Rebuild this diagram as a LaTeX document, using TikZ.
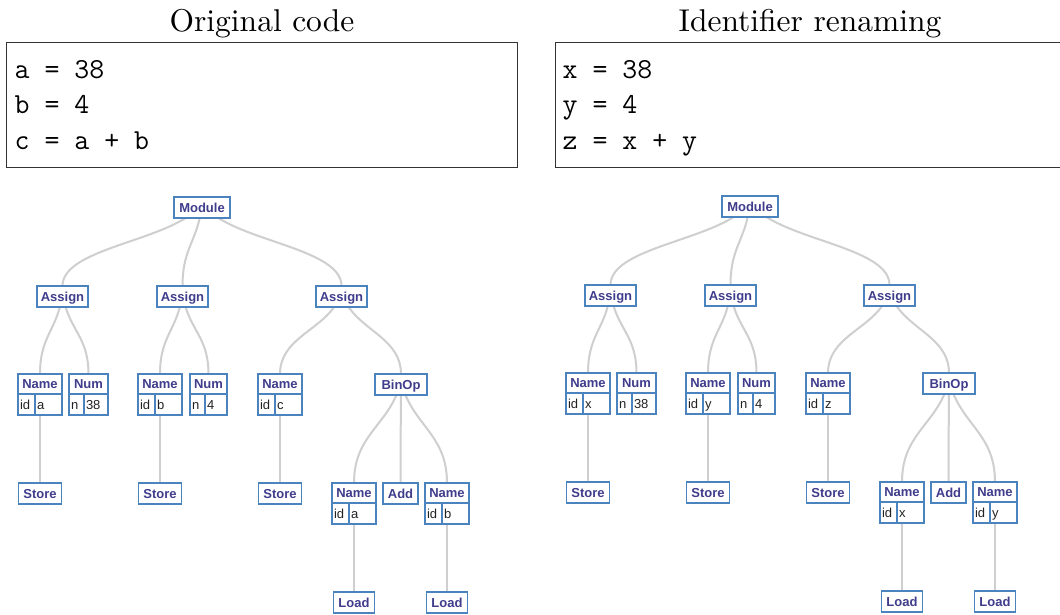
\documentclass[tikz,border=0pt]{standalone}
\usepackage{fontspec}
\newfontfamily\astsans{Liberation Sans}
\newfontfamily\titlefont{lmroman10-regular.otf}
\usetikzlibrary{calc}

\definecolor{astblue}{HTML}{4A83BD}
\definecolor{astink}{HTML}{3F3D8C}
\definecolor{astlinkc}{HTML}{CFCFCF}
\definecolor{astcellink}{HTML}{222222}
\definecolor{codeframe}{HTML}{333333}

\pgfdeclarelayer{paper}
\pgfdeclarelayer{links}
\pgfsetlayers{paper,links,main}

\tikzset{
  astbox/.style={draw=astblue, line width=1.9pt, fill=white, text=astink,
    font=\astsans\bfseries\fontsize{13}{15}\selectfont, inner sep=0pt,
    outer sep=0pt, minimum height=21pt, text height=9.3pt, text depth=0pt},
  astcell/.style={draw=astblue, line width=1.9pt, fill=white, text=astcellink,
    font=\astsans\fontsize{13}{15}\selectfont, inner xsep=2pt, inner ysep=0pt,
    outer sep=0pt, minimum height=21pt, text height=9.3pt, text depth=0pt,
    align=left, anchor=north west},
  astlink/.style={draw=astlinkc, line width=2pt},
  codebox/.style={draw=codeframe, line width=1.2pt, anchor=north west,
    inner sep=0pt, minimum width=511pt, minimum height=125pt},
  codeline/.style={anchor=base west, inner sep=0pt,
    font=\ttfamily\fontsize{29}{35}\selectfont},
  titletext/.style={anchor=base, inner sep=0pt, font=\titlefont\fontsize{31.5}{37}\selectfont},
}

% curved connector: leaves the parent towards the child, enters the child vertically
\newcommand\astedge[2]{%
  \draw[astlink] (#1) .. controls ($(#1)!0.4!(#2)$) and ($(#2)!0.5!(#2|-#1)$) .. (#2);}

% Name node: header plus an "id | value" row
\newcommand\astname[3]{%
  \node[astbox, minimum width=44pt, minimum height=20pt] (#1) at (#2) {Name};
  \node[astcell, text width=13pt] (#1-k) at (#1.south west) {id};
  \node[astcell, text width=23pt] (#1-v) at (#1-k.north east) {#3};}

% Num node: #3 header width, #4 value, #5 value text width
\newcommand\astnum[5]{%
  \node[astbox, minimum width=#3, minimum height=20pt] (#1) at (#2) {Num};
  \node[astcell, text width=11pt] (#1-k) at (#1.south west) {n};
  \node[astcell, text width=#5] (#1-v) at (#1-k.north east) {#4};}

% syntax tree of the three assignments; #1 name prefix, #2..#4 identifiers
\newcommand\asttree[4]{%
  \node[astbox, minimum width=56pt] (#1mod) at (202,207.5) {Module};
  \node[astbox, minimum width=51pt] (#1as1) at (62.5,296.5) {Assign};
  \node[astbox, minimum width=51pt] (#1as2) at (182.5,296.5) {Assign};
  \node[astbox, minimum width=51pt] (#1as3) at (341.5,296.5) {Assign};
  \astname{#1n1}{40,384}{#2}
  \astnum{#1c1}{88.5,384}{39pt}{38}{20pt}
  \astname{#1n2}{160,384}{#3}
  \astnum{#1c2}{208.5,384}{37pt}{4}{18pt}
  \astname{#1n3}{280,384}{#4}
  \node[astbox, minimum width=52pt] (#1bin) at (401,384.5) {BinOp};
  \node[astbox, minimum width=43pt] (#1st1) at (40,493.5) {Store};
  \node[astbox, minimum width=43pt] (#1st2) at (160,493.5) {Store};
  \node[astbox, minimum width=43pt] (#1st3) at (280,493.5) {Store};
  \astname{#1n4}{354,493}{#2}
  \node[astbox, minimum width=35pt] (#1add) at (400.5,493.5) {Add};
  \astname{#1n5}{447,493}{#3}
  \node[astbox, minimum width=41pt] (#1ld1) at (354,602.5) {Load};
  \node[astbox, minimum width=41pt] (#1ld2) at (447,602.5) {Load};
  \begin{pgfonlayer}{links}
    \astedge{#1mod}{#1as1}
    \astedge{#1mod}{#1as2}
    \astedge{#1mod}{#1as3}
    \astedge{#1as1}{#1n1}
    \astedge{#1as1}{#1c1}
    \astedge{#1as2}{#1n2}
    \astedge{#1as2}{#1c2}
    \astedge{#1as3}{#1n3}
    \astedge{#1as3}{#1bin}
    \astedge{#1n1}{#1st1}
    \astedge{#1n2}{#1st2}
    \astedge{#1n3}{#1st3}
    \astedge{#1bin}{#1n4}
    \astedge{#1bin}{#1add}
    \astedge{#1bin}{#1n5}
    \astedge{#1n4}{#1ld1}
    \astedge{#1n5}{#1ld2}
  \end{pgfonlayer}}

\begin{document}
\begin{tikzpicture}[x=1pt,y=-1pt]
  \useasboundingbox (0,0) rectangle (1060,614);
  \begin{pgfonlayer}{paper}
    \fill[white] (0,0) rectangle (1060,614);
  \end{pgfonlayer}

  % source code panels
  \node[titletext] (Ltitle) at (262,31.5) {Original code};
  \node[codebox] (Lbox) at (6,42) {};
  \node[codeline] (Lc1) at (14.5,78) {a = 38};
  \node[codeline] (Lc2) at (14.5,113.5) {b = 4};
  \node[codeline] (Lc3) at (14.5,149) {c = a + b};

  \node[titletext] (Rtitle) at (810,31.5) {Identifier renaming};
  \node[codebox] (Rbox) at (555,42) {};
  \node[codeline] (Rc1) at (562.5,78) {x = 38};
  \node[codeline] (Rc2) at (562.5,113.5) {y = 4};
  \node[codeline] (Rc3) at (562.5,149) {z = x + y};

  % syntax trees
  \asttree{L}{a}{b}{c}
  \begin{scope}[shift={(548,-1)}]
    \asttree{R}{x}{y}{z}
  \end{scope}
\end{tikzpicture}
\end{document}
